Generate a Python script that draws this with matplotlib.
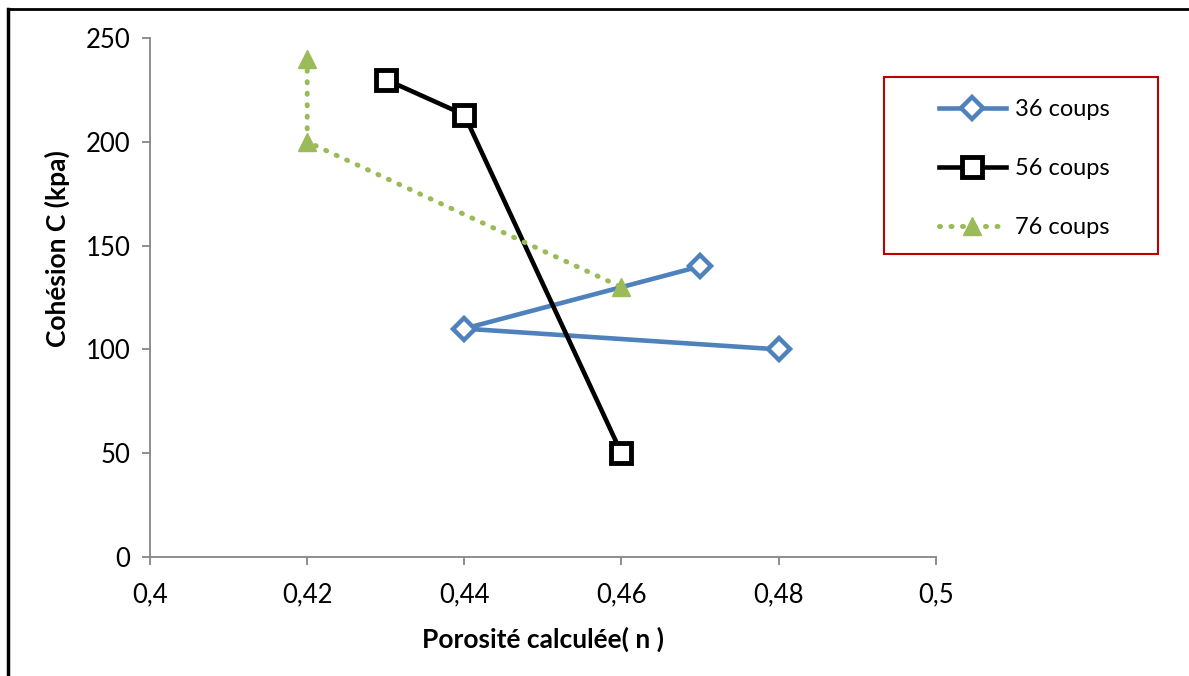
import matplotlib.pyplot as plt
from matplotlib.lines import Line2D
from matplotlib.patches import Rectangle

# Data
x_36 = [0.48, 0.44, 0.47]
y_36 = [100, 110, 140]
x_56 = [0.43, 0.44, 0.46]
y_56 = [230, 213, 50]
x_76 = [0.42, 0.42, 0.46]
y_76 = [240, 200, 130]

x_ticks = [0.40, 0.42, 0.44, 0.46, 0.48, 0.50]
x_tick_labels = ['0,4', '0,42', '0,44', '0,46', '0,48', '0,5']
y_ticks = [0, 50, 100, 150, 200, 250]

plt.rcParams['font.family'] = ['Lato', 'DejaVu Sans']

fig = plt.figure(figsize=(11.89, 6.76), dpi=100)
ax = fig.add_axes([0.1262, 0.176, 0.6608, 0.7678])

blue = '#4F81BD'
green = '#9BBB59'

ax.plot(x_36, y_36, color=blue, linewidth=3.3, marker='D', markersize=11,
        markerfacecolor='white', markeredgecolor=blue, markeredgewidth=3.2,
        label='36 coups', zorder=3)
ax.plot(x_56, y_56, color='black', linewidth=3.3, marker='s', markersize=15,
        markerfacecolor='white', markeredgecolor='black', markeredgewidth=3.5,
        label='56 coups', zorder=4)
ax.plot(x_76, y_76, color=green, linewidth=3.6, linestyle=(0, (0.2, 2.1)),
        dash_capstyle='round', marker='^', markersize=13,
        markerfacecolor=green, markeredgecolor=green,
        label='76 coups', zorder=5)

ax.set_xlim(0.40, 0.50)
ax.set_ylim(0, 250)
ax.set_xticks(x_ticks)
ax.set_xticklabels(x_tick_labels)
ax.set_yticks(y_ticks)

for side in ['top', 'right']:
    ax.spines[side].set_visible(False)
for side in ['left', 'bottom']:
    ax.spines[side].set_color('#868686')
    ax.spines[side].set_linewidth(1.3)
ax.tick_params(axis='both', direction='out', length=6, width=1.3,
               color='#868686', labelsize=18.5, pad=8)
ax.tick_params(axis='x', pad=12)

ax.set_xlabel('Porosité calculée( n )', fontsize=19, fontweight='bold', labelpad=14)
ax.set_ylabel('Cohésion C (kpa)', fontsize=19, fontweight='bold', va='center')
# the y title sits above the axis middle in the reference
ax.yaxis.set_label_coords(-0.118, 0.595)

# Red legend box on the right
box_x, box_y, box_w, box_h = 884 / 1189, 1 - 254 / 676, 274 / 1189, 177 / 676
fig.add_artist(Rectangle((box_x, box_y), box_w, box_h, transform=fig.transFigure,
                         facecolor='white', edgecolor='#C00000', linewidth=1.5,
                         zorder=1))
leg = fig.legend(loc='center',
                 bbox_to_anchor=(box_x + box_w / 2 + 0.003, box_y + box_h / 2 - 0.0045),
                 frameon=False, fontsize=17, handlelength=2.8,
                 labelspacing=1.6, handletextpad=0.4)
leg.set_zorder(2)

# Figure border (top and left edges visible in the reference)
fig.add_artist(Line2D([8 / 1189, 1.0], [1 - 9 / 676, 1 - 9 / 676],
                      transform=fig.transFigure, color='black', linewidth=2))
fig.add_artist(Line2D([8 / 1189, 8 / 1189], [0.0, 1 - 9 / 676],
                      transform=fig.transFigure, color='black', linewidth=2.5))

fig.savefig('out.png', dpi=100)
